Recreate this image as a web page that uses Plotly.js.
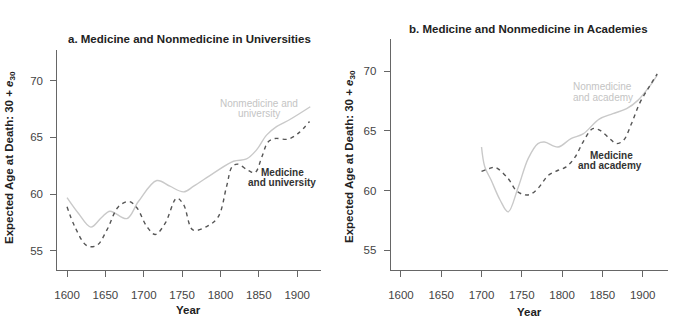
<!DOCTYPE html>
<html>
<head>
<meta charset="utf-8">
<script src="https://cdn.plot.ly/plotly-3.0.1.min.js"></script>
<style>html,body{margin:0;padding:0;background:#fff;}#chart{width:693px;height:324px;}</style>
</head>
<body>
<div id="chart"></div>
<script>
// ---- Data ----
const uniNonmedYears = [1600,1615,1631,1645,1656,1678,1693,1717,1734,1752,1765,1791,1817,1834,1847,1860,1873,1891,1917];
const uniNonmedValues = [59.7,58.3,57.1,57.95,58.5,57.85,59.35,61.2,60.7,60.2,60.7,61.85,62.9,63.1,63.9,65.2,65.95,66.6,67.7];

const uniMedYears = [1600,1610,1626,1639,1652,1667,1681,1691,1704,1715,1728,1743,1752,1764,1782,1797,1808,1815,1822,1836,1845,1854,1862,1871,1888,1902,1916];
const uniMedValues = [58.9,57.15,55.45,55.5,56.85,58.9,59.35,58.8,57.15,56.45,57.45,59.65,59.06,56.85,57.15,58.0,60.7,62.4,62.65,62.1,61.9,63.3,64.6,64.9,64.85,65.4,66.4];

const acadNonmedYears = [1700,1704,1712,1723,1733,1745,1758,1770,1778,1795,1811,1826,1846,1863,1880,1894,1908,1918];
const acadNonmedValues = [63.65,62.0,60.86,59.2,58.2,60.17,62.7,63.94,64.07,63.65,64.36,64.75,66.0,66.45,66.87,67.57,68.7,69.7];

const acadMedYears = [1700,1710,1717,1733,1743,1752,1760,1770,1783,1795,1805,1816,1826,1838,1847,1859,1867,1876,1886,1896,1908,1918];
const acadMedValues = [61.6,61.85,61.95,61.0,60.0,59.66,59.66,60.17,61.28,61.7,61.98,62.8,64.07,65.2,65.05,64.36,63.94,64.2,65.6,67.3,68.7,69.8];

const xTickVals = [1600,1650,1700,1750,1800,1850,1900];
const yTickVals = [55,60,65,70];

const panelTitles = ["a. Medicine and Nonmedicine in Universities","b. Medicine and Nonmedicine in Academies"];
const yTitle = "Expected Age at Death: 30 + <i>e</i><sub>30</sub>";
const xTitle = "Year";

// ---- Styling ----
const W = 693, H = 324;
const px = x => x / W;
const py = y => 1 - y / H;
const FONT = "Liberation Sans, Arial, Helvetica, sans-serif";
const LIGHT = "#c9c9c9";
const DARK = "#555555";

const traces = [
  {x: uniNonmedYears, y: uniNonmedValues, xaxis:'x', yaxis:'y', mode:'lines',
   line:{color:LIGHT, width:1.4, shape:'spline', smoothing:1}, hoverinfo:'skip'},
  {x: uniMedYears, y: uniMedValues, xaxis:'x', yaxis:'y', mode:'lines',
   line:{color:DARK, width:1.4, shape:'spline', smoothing:1, dash:'4px,4px'}, hoverinfo:'skip'},
  {x: acadNonmedYears, y: acadNonmedValues, xaxis:'x2', yaxis:'y2', mode:'lines',
   line:{color:LIGHT, width:1.4, shape:'spline', smoothing:1}, hoverinfo:'skip'},
  {x: acadMedYears, y: acadMedValues, xaxis:'x2', yaxis:'y2', mode:'lines',
   line:{color:DARK, width:1.4, shape:'spline', smoothing:1, dash:'4px,4px'}, hoverinfo:'skip'}
];

function xAxis(domain, anchor){
  return {domain: domain, anchor: anchor, range:[1587.3,1931], tickvals:xTickVals,
    showline:true, linecolor:'#666', linewidth:1, ticks:'outside', ticklen:6, tickcolor:'#666', tickwidth:1,
    showgrid:false, zeroline:false, tickfont:{family:FONT, size:11.5, color:'#444'}, ticklabelstandoff:8, fixedrange:true};
}
function yAxis(domain, anchor){
  return {domain: domain, anchor: anchor, range:[53.32,72.7], tickvals:yTickVals,
    showline:true, linecolor:'#666', linewidth:1, ticks:'outside', ticklen:6, tickcolor:'#666', tickwidth:1,
    showgrid:false, zeroline:false, tickfont:{family:FONT, size:11.5, color:'#444'}, ticklabelstandoff:5, fixedrange:true};
}

function ann(text, x, y, opts){
  return Object.assign({text:text, xref:'paper', yref:'paper', x:px(x), y:py(y), showarrow:false,
    xanchor:'center', yanchor:'middle', font:{family:FONT, size:12, color:'#222'}}, opts||{});
}

const annotations = [
  ann("<b>"+panelTitles[0]+"</b>", 189.5, 39.5, {font:{family:FONT,size:11.5,color:'#222'}}),
  ann("<b>"+panelTitles[1]+"</b>", 528, 28.5, {font:{family:FONT,size:11.5,color:'#222'}}),
  ann("<b>"+yTitle+"</b>", 10, 158, {textangle:-90, font:{family:FONT,size:11.5,color:'#222'}}),
  ann("<b>"+yTitle+"</b>", 350, 157, {textangle:-90, font:{family:FONT,size:11.5,color:'#222'}}),
  ann("<b>"+xTitle+"</b>", 188.7, 310, {font:{family:FONT,size:11.5,color:'#222'}}),
  ann("<b>"+xTitle+"</b>", 529, 312, {font:{family:FONT,size:11.5,color:'#222'}}),
  // line labels
  ann("Nonmedicine and", 258.6, 103.3, {font:{family:FONT,size:10,color:'#c4c4c4'}}),
  ann("university", 258.6, 113.3, {font:{family:FONT,size:10,color:'#c4c4c4'}}),
  ann("<b>Medicine</b>", 282, 172, {font:{family:FONT,size:10,color:'#333'}}),
  ann("<b>and university</b>", 282, 182.3, {font:{family:FONT,size:10,color:'#333'}}),
  ann("Nonmedicine", 571, 86.7, {xanchor:'left', font:{family:FONT,size:10,color:'#c4c4c4'}}),
  ann("and academy", 571, 97.3, {xanchor:'left', font:{family:FONT,size:10,color:'#c4c4c4'}}),
  ann("<b>Medicine</b>", 611, 155, {font:{family:FONT,size:10,color:'#333'}}),
  ann("<b>and academy</b>", 610.3, 165.7, {font:{family:FONT,size:10,color:'#333'}})
];

const layout = {
  width: W, height: H,
  margin:{l:0,r:0,t:0,b:0},
  paper_bgcolor:'#fff', plot_bgcolor:'#fff',
  showlegend:false,
  xaxis: xAxis([px(57.3), px(321)], 'y'),
  yaxis: yAxis([py(270), py(50)], 'x'),
  xaxis2: xAxis([px(390.7), px(667.7)], 'y2'),
  yaxis2: yAxis([py(270), py(39.3)], 'x2'),
  annotations: annotations,
  font:{family:FONT}
};

Plotly.newPlot('chart', traces, layout, {displayModeBar:false, staticPlot:true});
</script>
</body>
</html>
